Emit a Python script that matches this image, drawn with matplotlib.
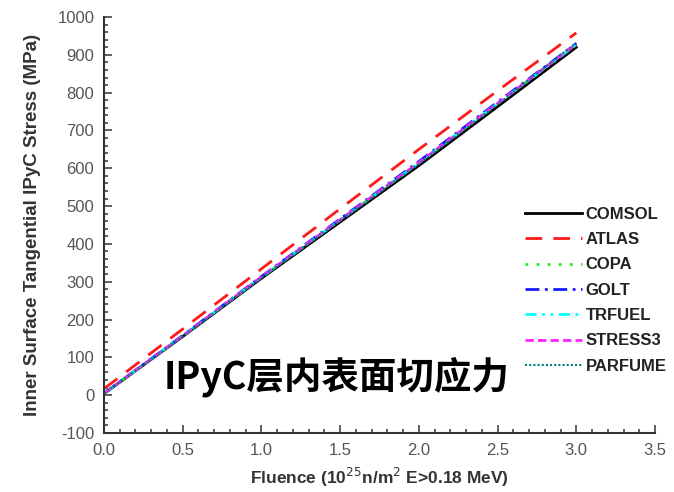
import numpy as np
import matplotlib
matplotlib.use('Agg')
import matplotlib.pyplot as plt
from matplotlib.ticker import MultipleLocator

fluence = [0.0, 0.5, 1.0, 1.5, 2.0, 2.5, 3.0]
comsol = [4, 155, 309, 458, 607, 763, 920]
atlas = [17, 175, 334, 493, 650, 805, 958]
copa = [5, 157, 312, 463, 614, 771, 928]
golt = [5, 158, 314, 466, 618, 775, 930]
trfuel = [5, 157, 312, 463, 614, 771, 927]
stress3 = [5, 157, 313, 464, 615, 772, 929]
parfume = [5, 156, 311, 462, 612, 769, 932]

names = ['COMSOL', 'ATLAS', 'COPA', 'GOLT', 'TRFUEL', 'STRESS3', 'PARFUME']
series = [comsol, atlas, copa, golt, trfuel, stress3, parfume]
colors = ['black', '#ff1a1a', '#22ee22', '#1a1aff', '#00ffff', '#ff22ff', '#008080']
styles = ['-', (0, (6, 4)), (0, (1, 3)), (0, (5, 2, 1, 2)),
          (0, (4, 2, 1, 2, 1, 2)), (0, (3, 1.5)), (0, (1, 1))]
widths = [2.0, 2.0, 2.0, 2.0, 2.0, 2.0, 1.5]

plt.rcParams['font.family'] = ['Liberation Sans', 'DejaVu Sans']
plt.rcParams['axes.unicode_minus'] = False

fig = plt.figure(figsize=(6.74, 4.92), dpi=100)
ax = fig.add_axes([104 / 674, 59 / 492, 551 / 674, 416 / 492])

for name, y, c, ls, lw in zip(names, series, colors, styles, widths):
    ax.plot(fluence, y, color=c, linestyle=ls, linewidth=lw, label=name)

ax.set_xlim(0, 3.5)
ax.set_ylim(-100, 1000)
ax.xaxis.set_major_locator(MultipleLocator(0.5))
ax.xaxis.set_minor_locator(MultipleLocator(0.1))
ax.yaxis.set_major_locator(MultipleLocator(100))
ax.yaxis.set_minor_locator(MultipleLocator(20))
ax.xaxis.set_major_formatter(plt.FuncFormatter(lambda v, p: f'{v:.1f}'))
ax.tick_params(which='both', direction='in', colors='#444444', labelsize=12,
               labelcolor='#555555', width=1.2)
ax.tick_params(which='major', length=6, pad=7)
ax.tick_params(which='minor', length=3)
for s in ['top', 'right']:
    ax.spines[s].set_visible(False)
for s in ['left', 'bottom']:
    ax.spines[s].set_linewidth(1.5)
    ax.spines[s].set_color('#333333')

ax.set_ylabel('Inner Surface Tangential IPyC Stress (MPa)', fontsize=13.5,
              fontweight='bold', color='#333333', labelpad=12)
ax.set_xlabel('Fluence (10$^{25}$n/m$^{2}$ E>0.18 MeV)', fontsize=12.5,
              fontweight='bold', color='#333333', labelpad=6)

leg = ax.legend(loc='upper left', bbox_to_anchor=(0.752, 0.56), frameon=False,
                prop={'weight': 'bold', 'size': 12}, handlelength=3.4,
                handletextpad=0.25, labelspacing=0.62, borderaxespad=0)
for t in leg.get_texts():
    t.set_color('#222222')

ax.text(0.38, 48, 'IPyC层内表面切应力', fontsize=27, fontweight='bold',
        family=['Noto Sans CJK SC', 'DejaVu Sans'], va='center', ha='left')

fig.savefig('out.png', dpi=100)
plt.close(fig)
